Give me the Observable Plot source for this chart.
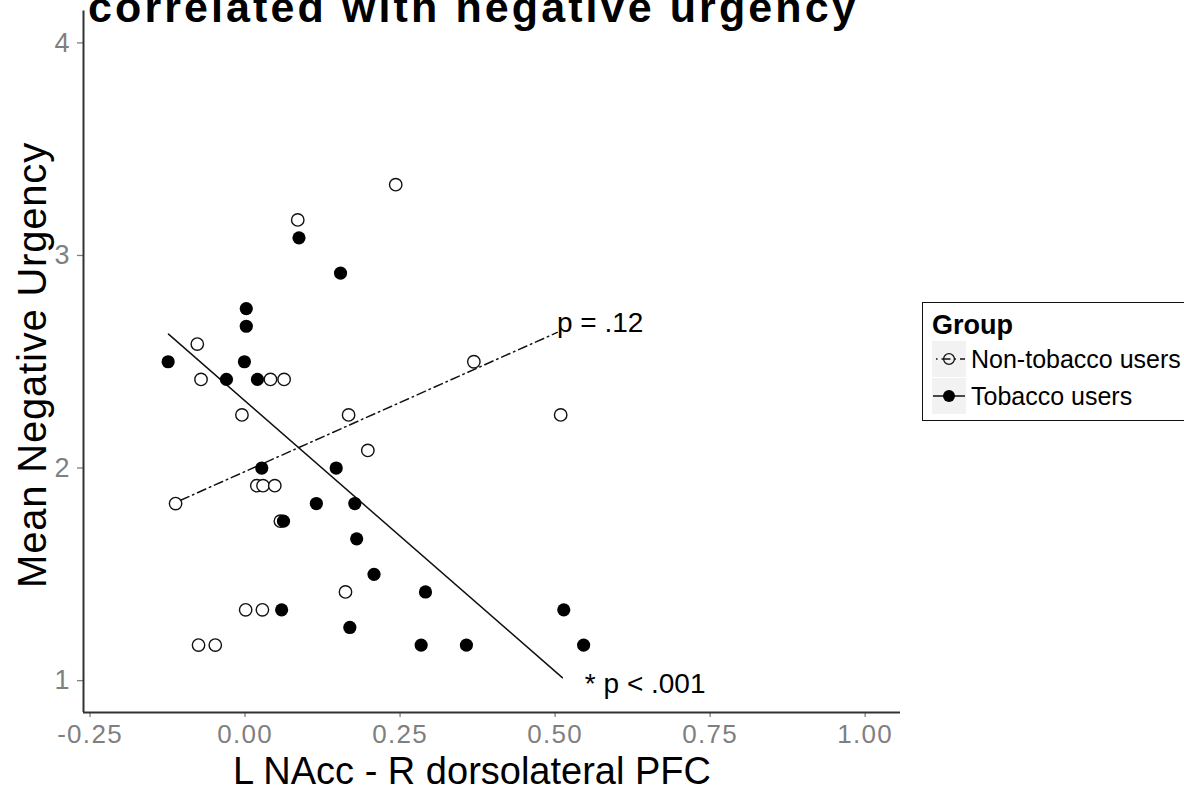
<!DOCTYPE html>
<html>
<head>
<meta charset="utf-8">
<script src="https://cdn.jsdelivr.net/npm/d3@7"></script>
<script src="https://cdn.jsdelivr.net/npm/@observablehq/plot@0.6"></script>
<style>
  html, body { margin: 0; padding: 0; background: #fff; overflow: hidden; }
  #wrap { position: relative; width: 1184px; height: 794px; overflow: hidden;
          font-family: "Liberation Sans", Arial, Helvetica, sans-serif; color: #000; }
  #chart { position: absolute; left: 0; top: 0; }
  .abs { position: absolute; white-space: nowrap; line-height: 1; }
  #title { left: 88px; top: -14px; font-size: 43px; font-weight: bold; letter-spacing: 3.1px; z-index: 3; }
  #xlab { left: 472px; top: 771px; font-size: 38px; line-height: 0.75; transform: translate(-50%, -50%); }
  #ylab { left: 32px; top: 365px; font-size: 40px; transform: translate(-50%, -50%) rotate(-90deg); letter-spacing: 0.8px; }
  #legend { position: absolute; left: 922px; top: 302px; width: 300px; height: 117px;
            border: 1.8px solid #111; background: #fff; z-index: 2; }
  #legend .lt { position: absolute; left: 9px; top: 9px; font-size: 27px; font-weight: bold; line-height: 1; }
  #legend .key { position: absolute; left: 9px; width: 34px; height: 36px; background: #f2f2f2; }
  #legend .lab { position: absolute; left: 48px; font-size: 25px; line-height: 1; transform: translateY(-50%); white-space: nowrap; }
  svg g[aria-label="x-axis tick label"] text { letter-spacing: 1.3px; }
</style>
</head>
<body>
<div id="wrap">
  <div id="chart"></div>
  <div id="title" class="abs"></div>
  <div id="xlab" class="abs"></div>
  <div id="ylab" class="abs"></div>
  <div id="legend"></div>
</div>
<script>
// ---- data ----
const titleText = "correlated with negative urgency";
const xLabel = "L NAcc - R dorsolateral PFC";
const yLabel = "Mean Negative Urgency";
const legendTitle = "Group";
const groups = ["Non-tobacco users", "Tobacco users"];

const xTicks = [-0.25, 0, 0.25, 0.5, 0.75, 1.0];
const yTicks = [1, 2, 3, 4];
const xDomain = [-0.2605, 1.057];
const yDomain = [0.85, 4.15];

// Non-tobacco users (open circles)
const nonX = [0.243, 0.085, -0.077, -0.071, 0.041, 0.063, -0.005, 0.167, 0.198, 0.019, 0.029, 0.048, -0.112, 0.057, 0.162, 0.001, 0.028, -0.075, -0.048, 0.369, 0.509];
const nonY = [3.333, 3.167, 2.583, 2.417, 2.417, 2.417, 2.25, 2.25, 2.083, 1.917, 1.917, 1.917, 1.833, 1.75, 1.417, 1.333, 1.333, 1.167, 1.167, 2.5, 2.25];

// Tobacco users (filled circles)
const tobX = [0.087, 0.154, 0.002, 0.002, -0.124, -0.001, -0.030, 0.020, 0.027, 0.147, 0.115, 0.177, 0.062, 0.180, 0.208, 0.291, 0.059, 0.514, 0.169, 0.284, 0.357, 0.546];
const tobY = [3.083, 2.917, 2.75, 2.667, 2.5, 2.5, 2.417, 2.417, 2.0, 2.0, 1.833, 1.833, 1.75, 1.667, 1.5, 1.417, 1.333, 1.333, 1.25, 1.167, 1.167, 1.167];

// Fitted lines (end points)
const nonFitX = [-0.112, 0.5035];
const nonFitY = [1.838, 2.638];
const tobFitX = [-0.1234, 0.5116];
const tobFitY = [2.630, 1.014];

// Annotations
const annotLabels = ["p = .12", "* p < .001"];
const annotX = [0.503, 0.548];
const annotY = [2.68, 0.985];

// ---- build tables ----
const nonData = nonX.map((x, i) => ({x, y: nonY[i]}));
const tobData = tobX.map((x, i) => ({x, y: tobY[i]}));
const nonFit = nonFitX.map((x, i) => ({x, y: nonFitY[i]}));
const tobFit = tobFitX.map((x, i) => ({x, y: tobFitY[i]}));
const annots = annotLabels.map((t, i) => ({t, x: annotX[i], y: annotY[i]}));

const FONT = '"Liberation Sans", Arial, Helvetica, sans-serif';
const grey = "#7f7f7f";
const dotdash = "1.5,4,9,4";

const chart = Plot.plot({
  width: 1184,
  height: 794,
  marginLeft: 83,
  marginRight: 284,
  marginTop: 10.5,
  marginBottom: 82,
  style: { fontFamily: FONT, background: "transparent", overflow: "visible" },
  x: { domain: xDomain },
  y: { domain: yDomain },
  marks: [
    Plot.axisX({ ticks: xTicks, tickFormat: d => d.toFixed(2), tickSize: 5, tickPadding: 7,
                 fontSize: 26, fill: grey, stroke: grey, strokeWidth: 1.3, label: null }),
    Plot.axisY({ ticks: yTicks, tickFormat: d => String(d), tickSize: 6, tickPadding: 8,
                 fontSize: 27, fill: grey, stroke: grey, strokeWidth: 1.3, label: null }),
    Plot.line(nonFit, { x: "x", y: "y", stroke: "#111", strokeWidth: 1.5, strokeDasharray: dotdash }),
    Plot.line(tobFit, { x: "x", y: "y", stroke: "#111", strokeWidth: 1.5 }),
    Plot.dot(nonData, { x: "x", y: "y", r: 6.2, fill: "white", stroke: "#111", strokeWidth: 1.4 }),
    Plot.dot(tobData, { x: "x", y: "y", r: 6.6, fill: "#000", stroke: "none" }),
    Plot.text(annots, { x: "x", y: "y", text: "t", textAnchor: "start", lineAnchor: "middle",
                        fontSize: 28, fill: "#000" }),
    Plot.ruleY([yDomain[0]], { stroke: "#333", strokeWidth: 2 }),
    Plot.ruleX([xDomain[0]], { stroke: "#333", strokeWidth: 2 })
  ]
});
document.getElementById("chart").appendChild(chart);

document.getElementById("title").textContent = titleText;
document.getElementById("xlab").textContent = xLabel;
document.getElementById("ylab").textContent = yLabel;

// ---- legend ----
const lg = document.getElementById("legend");
const lt = document.createElement("div");
lt.className = "lt";
lt.textContent = legendTitle;
lg.appendChild(lt);
const keyTops = [38, 75];
groups.forEach((g, i) => {
  const key = document.createElement("div");
  key.className = "key";
  key.style.top = keyTops[i] + "px";
  const filled = i === 1;
  key.innerHTML =
    `<svg width="34" height="36" style="display:block">` +
    `<line x1="1" x2="33" y1="18" y2="18" stroke="#111" stroke-width="1.5" ${filled ? "" : `stroke-dasharray="1.5,4,9,4" stroke-dashoffset="-3"`}/>` +
    `<circle cx="17" cy="18" r="${filled ? 6 : 5.4}" fill="${filled ? "#000" : "none"}" stroke="#111" stroke-width="${filled ? 0 : 1.3}"/>` +
    `</svg>`;
  lg.appendChild(key);
  const lab = document.createElement("div");
  lab.className = "lab";
  lab.style.top = (keyTops[i] + 18) + "px";
  lab.textContent = g;
  lg.appendChild(lab);
});
</script>
</body>
</html>
